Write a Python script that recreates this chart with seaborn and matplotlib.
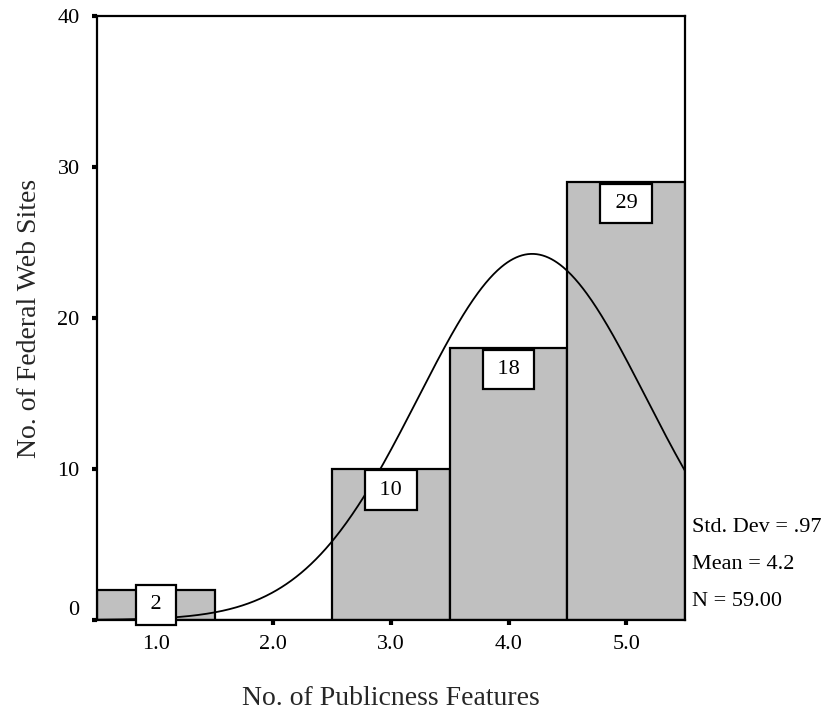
import numpy as np
import pandas as pd
import matplotlib
matplotlib.use("Agg")
import matplotlib.pyplot as plt
import matplotlib.transforms as mtransforms
import seaborn as sns

# Frequency table of publicness features across federal web sites
features = [1, 2, 3, 4, 5]
site_counts = [2, 0, 10, 18, 29]

# Summary statistics shown beside the plot
std_dev = 0.97
mean_val = 4.2
n_total = 59

y_ticks = [0, 10, 20, 30, 40]
x_ticks = [1.0, 2.0, 3.0, 4.0, 5.0]

sns.set_theme(style="white")
plt.rcParams["font.family"] = ["Liberation Serif", "DejaVu Serif"]

df = pd.DataFrame({"features": features, "sites": site_counts})

fig = plt.figure(figsize=(8.22, 7.23), dpi=100)
ax = fig.add_axes([97 / 822, 103 / 723, 588 / 822, 603.5 / 723])

lo, hi = min(features) - 0.5, max(features) + 0.5
sns.histplot(data=df, x="features", weights="sites", binwidth=1.0,
             binrange=(lo, hi), color="#c0c0c0", alpha=1.0,
             edgecolor="black", linewidth=1.6, ax=ax, zorder=2)

# Fitted normal curve scaled to counts (bin width 1)
xs = np.linspace(lo, hi, 600)
ys = n_total * 1.0 / (std_dev * np.sqrt(2 * np.pi)) * np.exp(-0.5 * ((xs - mean_val) / std_dev) ** 2)
sns.lineplot(x=xs, y=ys, color="black", linewidth=1.3, ax=ax, zorder=3)

# Count labels in boxes just under the top of each bar,
# kept clear of the baseline for short bars
for f, c in zip(features, site_counts):
    if c == 0:
        continue
    ty = max(c - 1.39, 1.0)
    ax.text(f, ty, f"\u2009{c}\u2009", ha="center", va="center", fontsize=16,
            color="black", zorder=5,
            bbox=dict(boxstyle="square,pad=0.46", fc="white", ec="black", lw=1.6))

ax.set_xlim(lo, hi)
ax.set_ylim(0, 40)
ax.set_xticks(x_ticks)
ax.set_xticklabels([f"{t:.1f}" for t in x_ticks])
ax.set_yticks(y_ticks)
ax.set_yticklabels([str(t) for t in y_ticks])
ax.tick_params(axis="both", direction="out", length=3.5, width=3, color="black",
               labelsize=16, labelcolor="black", left=True, bottom=True)
ax.tick_params(axis="x", pad=7)
ax.tick_params(axis="y", pad=9)

# The zero label sits slightly above its tick
zero_lbl = ax.get_yticklabels()[0]
zero_lbl.set_transform(zero_lbl.get_transform() +
                       mtransforms.ScaledTranslation(0, 12 / 100, fig.dpi_scale_trans))

for sp in ax.spines.values():
    sp.set_visible(True)
    sp.set_color("black")
    sp.set_linewidth(1.6)

ax.set_xlabel("No. of Publicness Features", fontsize=20, labelpad=23)
ax.set_ylabel("No. of Federal Web Sites", fontsize=20, labelpad=11)

stats = [f"Std. Dev = {std_dev:.2f}".replace("0.", "."),
         f"Mean = {mean_val:.1f}",
         f"N = {n_total:.2f}"]
for i, s in enumerate(stats):
    fig.text(692 / 822, 1 - (528 + 36.5 * i) / 723, s, fontsize=16,
             ha="left", va="center", color="black")

fig.savefig("out.png", dpi=100)
